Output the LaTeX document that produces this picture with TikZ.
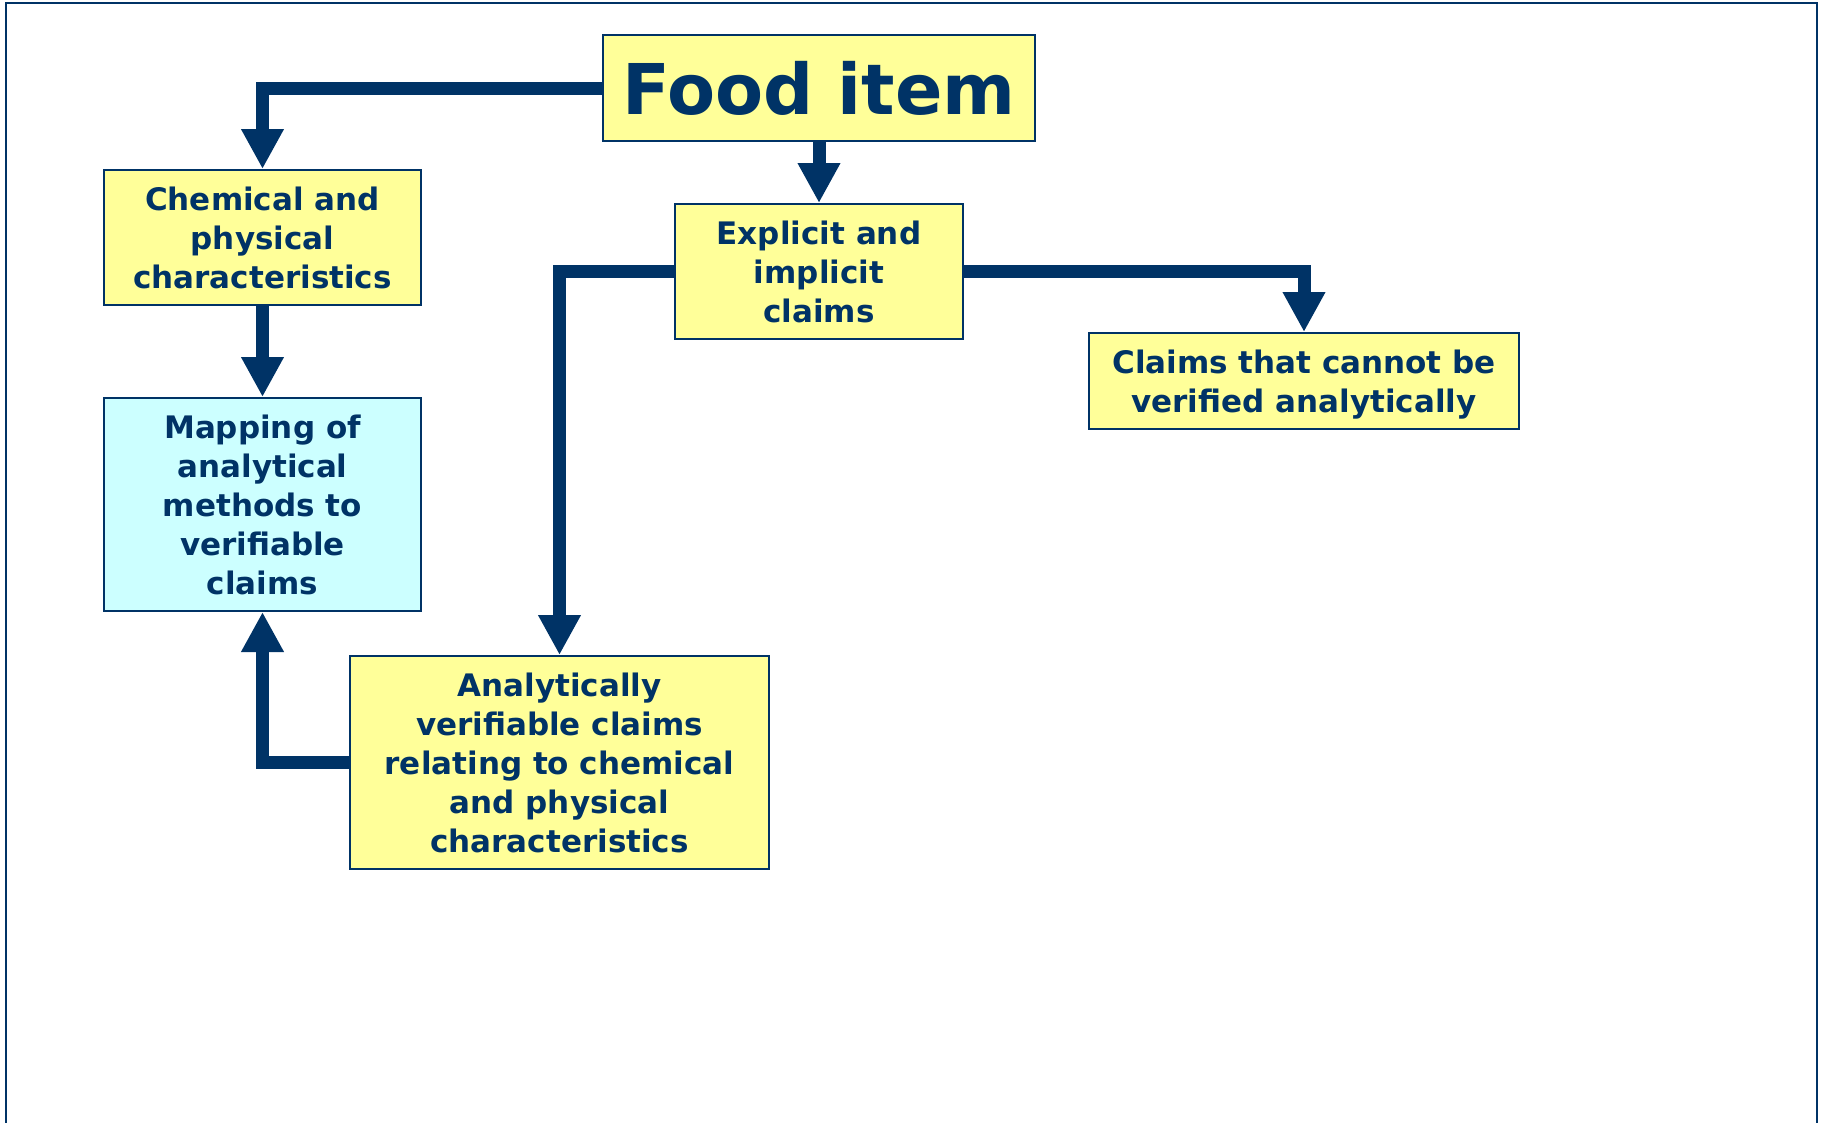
\documentclass[tikz,border=0pt]{standalone}
\usepackage{fontspec}
\setmainfont{DejaVu Sans}
\usetikzlibrary{arrows.meta}
\definecolor{navy}{HTML}{003366}
\definecolor{ylw}{HTML}{FFFF99}
\definecolor{cyn}{HTML}{CCFFFF}
\begin{document}
\begin{tikzpicture}[x=1pt,y=-1pt,
  txt/.style={text=navy, font=\bfseries\fontsize{31}{39}\selectfont,
    align=center, inner sep=0pt},
  box/.style={txt, draw=navy, line width=2pt, fill=ylw},
  conn/.style={draw=navy, line width=13pt, line join=miter,
    -{Triangle[length=40pt,width=40pt]}}]
\useasboundingbox (0,0) rectangle (1825,1122);
\draw[navy, line width=2pt] (6,1124) -- (6,3) -- (1817,3) -- (1817,1124);

\node[box, minimum width=432pt, minimum height=106pt,
  font=\bfseries\fontsize{70}{80}\selectfont] (food) at (819,88) {Food item};
\node[box, minimum width=317pt, minimum height=135pt] (chem) at (262.5,237.5)
  {Chemical and\\physical\\characteristics};
\node[box, fill=cyn, minimum width=317pt, minimum height=213pt] (map) at (262.5,504.5)
  {Mapping of\\analytical\\methods to\\verifiable\\claims};
\node[box, minimum width=288pt, minimum height=135pt] (expl) at (819,271.5)
  {Explicit and\\implicit\\claims};
\node[box, minimum width=430pt, minimum height=96pt] (cannot) at (1304,381) {};
\node[txt] (cannottxt) at (1304,384.5) {Claims that cannot be\\verified analytically};
\node[box, minimum width=419pt, minimum height=213pt] (anal) at (559.5,762.5)
  {Analytically\\verifiable claims\\relating to chemical\\and physical\\characteristics};

\draw[conn] (food.west) -| (chem.north);
\draw[conn] (food.south) -- (expl.north);
\draw[conn] (chem.south) -- (map.north);
\draw[conn] (expl.east) -| (cannot.north);
\draw[conn] (expl.west) -| (anal.north);
\draw[conn] (anal.west) -| (map.south);
\end{tikzpicture}
\end{document}
